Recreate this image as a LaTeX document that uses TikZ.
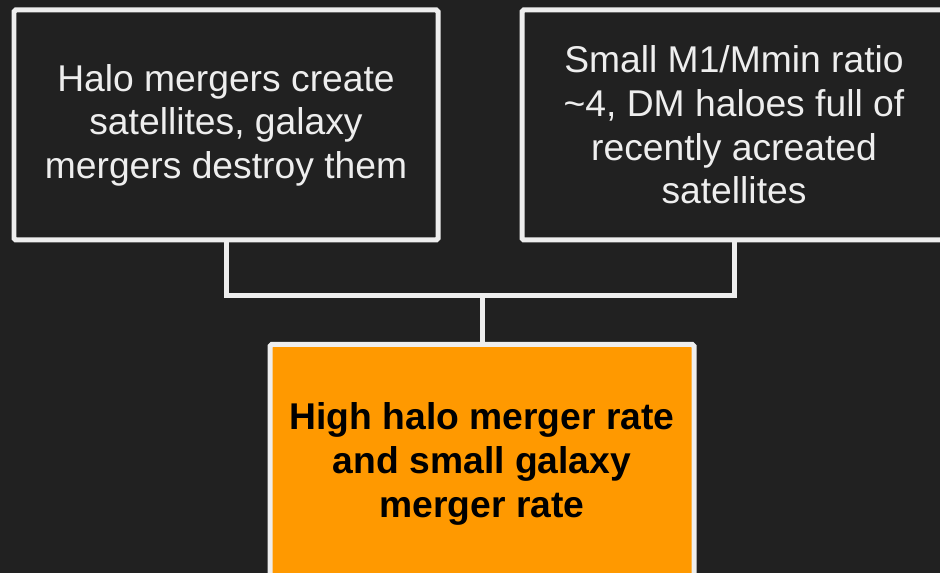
\documentclass[tikz,border=0pt]{standalone}
\usepackage{fontspec}
\setmainfont{Liberation Sans}
\definecolor{slidebg}{HTML}{212121}
\definecolor{edgegray}{HTML}{EEEEEE}
\definecolor{causeorange}{HTML}{FF9900}
\begin{document}
\begin{tikzpicture}[x=0.02cm, y=-0.02cm,
    box/.style={draw=edgegray, line width=0.1cm, rounded corners=1pt, fill=slidebg,
        text=edgegray, minimum width=424*0.02cm, minimum height=230*0.02cm,
        align=center, font=\fontsize{21.2}{24.8}\selectfont},
    result/.style={box, fill=causeorange, text=black, minimum height=239*0.02cm,
        font=\fontsize{21.2}{24.8}\selectfont\bfseries},
    link/.style={draw=edgegray, line width=0.1cm}]
    \fill[slidebg] (0,0) rectangle (940,573);
    \useasboundingbox (0,0) rectangle (940,573);
    \node[box] (halo) at (226,125) {Halo mergers create\\satellites, galaxy\\mergers destroy them};
    \node[box] (ratio) at (734,125) {Small M1/Mmin ratio\\\textasciitilde4, DM haloes full of\\recently acreated\\satellites};
    \node[result] (rate) at (482,464) {High halo merger rate\\and small galaxy\\merger rate};
    \coordinate (join) at (482,295.5);
    \draw[link] (halo.south) |- (join) -| (ratio.south);
    \draw[link] (join) -- (rate.north);
\end{tikzpicture}
\end{document}
